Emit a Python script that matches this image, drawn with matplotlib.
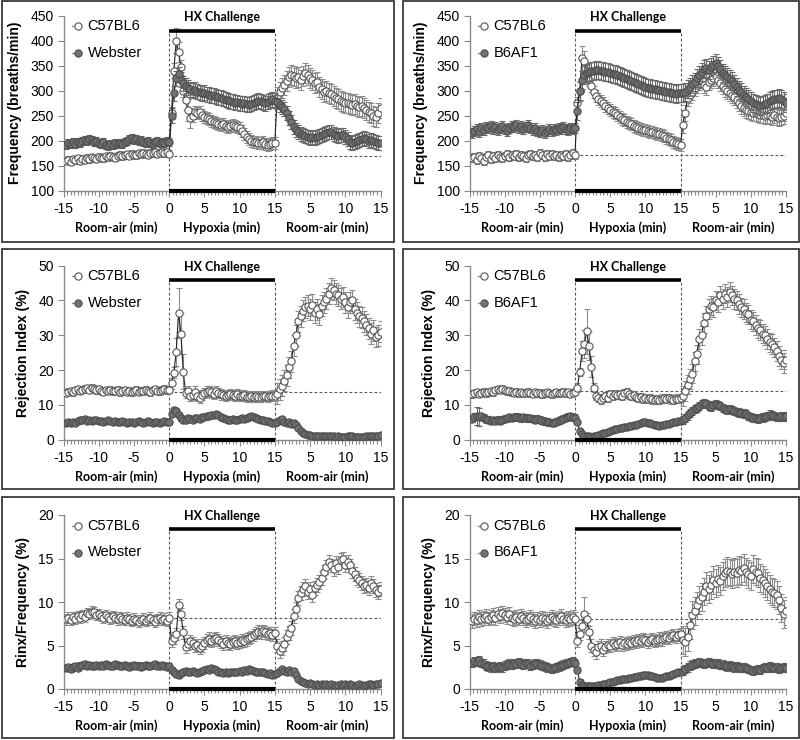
import numpy as np
import matplotlib
matplotlib.use("Agg")
import matplotlib.pyplot as plt
from matplotlib.patches import Rectangle
from matplotlib.lines import Line2D
import matplotlib.transforms as mtransforms

plt.rcParams['font.family'] = ['Liberation Sans', 'DejaVu Sans']

# ---------------- data (3 bins per minute; baseline, hypoxia, recovery) -------------
SEG_LABELS = ["Room-air (min)", "Hypoxia (min)", "Room-air (min)"]
XTICK_POS = [-15, -10, -5, 0, 5, 10, 15, 20, 25, 30]
XTICK_LABELS = ["-15", "-10", "-5", "0", "5", "10", "15", "5", "10", "15"]

P1_C57 = [160,162,158,163,161,165,160,164,162,166,163,167,165,164,168,166,165,169,167,170,168,166,170,172,169,171,173,170,174,172,171,175,173,176,174,172,176,175,177,174,176,178,175,177,174,
          255,340,400,378,347,300,282,262,245,250,258,255,258,252,248,245,243,240,238,236,234,232,233,230,228,230,232,229,228,225,220,214,208,203,200,197,198,196,195,198,194,191,193,195,196,
          288,298,305,312,320,328,332,330,326,328,322,330,335,332,326,322,315,318,308,303,297,300,296,294,290,286,283,280,278,276,275,274,272,273,270,268,270,266,262,258,255,250,248,255,265]
P1_WEB = [192,195,193,197,194,198,196,200,202,199,203,201,198,200,196,194,197,192,190,193,191,195,193,196,194,198,200,203,205,201,203,199,201,197,195,199,196,194,197,199,195,198,196,199,197,
          250,295,325,333,322,315,310,306,303,300,302,298,297,295,296,293,292,290,291,288,287,286,284,282,281,279,278,276,277,275,274,275,273,272,274,276,278,280,279,277,275,278,281,283,280,
          278,272,268,264,255,246,238,228,222,218,214,212,210,208,206,207,205,208,210,212,214,216,218,217,214,212,210,212,211,208,203,198,196,198,200,202,204,205,203,200,202,199,197,196,196]
P2_C57 = [165,168,162,170,166,160,167,171,164,169,166,172,168,165,170,173,167,171,169,174,168,172,170,166,171,174,169,172,168,175,171,167,173,170,174,169,172,167,171,169,173,168,171,175,172,
          275,300,365,360,340,322,310,298,290,284,279,275,270,266,262,258,255,252,248,244,241,238,236,233,230,228,226,224,222,221,219,218,217,215,214,213,212,209,206,204,201,198,196,193,192,
          232,255,285,292,298,305,312,318,322,312,308,318,322,326,330,322,315,310,304,300,296,292,288,282,276,270,266,262,260,258,256,255,254,252,251,250,252,250,248,251,248,245,247,250,255]
P2_B6 = [215,220,224,218,226,222,228,225,230,223,227,221,225,229,224,220,226,230,227,232,226,229,224,228,231,226,222,225,220,218,222,216,219,223,220,224,221,226,223,227,224,222,226,223,225,
         260,300,322,332,336,338,340,339,342,341,340,339,338,337,336,334,333,331,330,328,326,324,322,320,318,316,314,312,310,308,306,305,304,303,302,301,300,299,298,297,296,295,294,296,295,
         295,298,303,308,313,318,325,332,338,343,346,342,348,352,355,350,343,336,332,328,324,320,314,308,302,297,292,287,283,279,276,273,271,270,272,274,276,279,282,284,283,286,284,279,276]
P3_C57 = [13.5,13.8,14.0,13.6,14.2,14.5,14.0,14.3,14.6,14.8,14.4,15.0,14.7,14.2,14.5,14.0,13.8,14.2,14.0,14.4,13.9,14.1,14.3,13.7,14.0,14.2,13.8,14.1,13.6,14.0,14.3,13.8,14.1,13.9,14.4,14.0,13.7,14.2,14.5,14.1,13.9,14.3,14.6,14.2,14.4,
          16.2,19.3,25.3,36.5,30.5,19.5,13.5,14.0,12.5,12.8,13.8,12.5,12.0,12.8,13.5,13.8,14.0,13.6,13.2,13.9,13.5,13.0,12.8,12.5,12.9,13.2,12.8,12.6,13.0,12.7,12.5,12.8,12.4,12.2,12.5,12.3,12.6,12.4,12.2,12.5,12.6,12.3,12.5,12.7,12.6,
          13.2,14.5,15.5,17.0,18.5,20.8,22.5,27.0,30.0,34.0,35.5,37.0,38.0,38.5,37.5,38.8,36.5,37.5,36.0,38.5,39.5,40.5,42.0,43.5,43.0,42.0,41.5,40.5,41.0,39.5,38.0,39.5,40.0,37.5,36.5,35.5,35.0,34.0,33.0,32.0,30.5,31.5,29.5,30.0,31.0]
P3_WEB = [4.8,5.0,4.7,5.1,4.9,5.3,5.8,5.6,5.9,5.5,5.7,5.4,5.8,5.6,5.3,5.5,5.2,5.4,5.6,5.3,5.1,5.4,5.2,5.0,5.3,5.1,4.9,5.2,5.0,4.8,5.1,5.3,5.0,4.9,5.2,5.4,5.1,4.9,5.2,5.0,4.8,5.1,5.3,5.0,5.2,
          7.5,8.6,8.2,7.2,6.3,5.6,5.8,6.2,6.0,5.8,6.1,6.3,6.0,6.4,6.6,6.8,6.9,7.1,7.0,7.3,7.0,6.6,6.3,6.0,5.8,5.7,5.9,5.6,5.8,5.9,6.1,6.0,6.2,6.5,6.8,6.6,6.3,6.0,5.8,5.6,5.5,5.3,5.1,4.9,4.8,
          5.0,5.6,6.0,5.2,4.8,5.0,4.6,4.8,4.2,3.4,2.6,2.0,1.6,1.4,1.3,1.2,1.1,1.2,1.0,1.1,1.2,1.1,1.0,1.2,1.1,0.9,1.0,0.9,0.8,0.9,1.0,1.1,1.0,0.9,0.8,0.7,0.8,0.9,1.0,1.1,1.0,1.1,1.2,1.1,1.3]
P4_C57 = [13.0,13.3,13.6,13.2,13.5,13.8,13.4,13.7,14.0,13.6,14.2,14.5,14.3,14.6,14.2,13.9,14.1,13.7,13.5,13.8,13.4,13.6,13.3,13.5,13.8,13.4,13.2,13.6,13.3,13.5,13.1,13.4,13.6,13.3,13.0,13.4,13.7,13.3,13.5,13.8,13.4,13.6,13.2,13.5,13.8,
          15.0,19.5,25.5,27.5,31.2,27.0,21.0,15.0,12.5,12.0,11.5,12.0,12.5,12.0,13.0,12.6,13.2,12.8,13.0,12.7,13.3,13.6,13.0,12.6,12.8,12.3,12.0,12.2,11.8,12.0,11.7,11.9,11.6,11.4,11.6,11.5,11.8,12.0,11.7,11.9,11.6,11.5,11.8,11.7,12.0,
          12.5,14.0,15.8,17.5,19.0,22.5,24.5,29.0,30.0,33.5,35.5,37.5,38.5,38.0,40.0,39.5,41.5,40.5,42.0,41.0,42.5,41.5,40.5,40.0,39.0,38.0,37.5,36.5,36.0,34.5,34.0,33.0,32.0,31.5,30.5,30.0,29.0,28.0,27.5,26.5,25.5,24.0,23.0,22.0,23.0]
P4_B6 = [6.0,6.6,6.8,6.5,6.7,6.3,5.9,5.7,5.5,5.6,5.4,5.7,5.5,5.8,6.0,6.2,6.4,6.3,6.5,6.6,6.4,6.2,6.5,6.3,6.1,6.2,6.0,5.8,6.0,5.7,5.5,5.3,5.1,5.0,4.8,4.9,5.2,5.5,5.8,6.0,6.3,6.6,6.8,6.5,6.3,
         5.0,2.5,1.5,1.2,1.0,1.1,0.9,1.0,1.1,1.3,1.5,1.8,2.0,2.3,2.5,2.8,3.0,3.1,3.3,3.4,3.6,3.7,3.9,4.0,4.2,4.3,4.5,4.8,5.0,5.1,4.9,4.7,4.5,4.3,4.1,4.0,4.2,4.3,4.5,4.6,4.8,5.0,5.1,5.3,5.4,
         5.6,6.2,7.0,7.6,8.3,8.8,9.2,9.6,10.2,10.6,10.3,9.8,9.5,10.0,10.3,9.9,9.6,9.2,8.9,8.6,8.8,8.5,8.2,8.0,7.8,7.6,7.5,7.3,6.9,6.5,6.3,6.2,6.0,6.2,6.4,6.5,6.8,7.2,7.0,6.8,6.6,6.5,6.7,6.6,6.8]
P5_C57 = [8.0,8.2,7.9,8.3,8.1,8.4,8.2,8.5,8.3,8.7,8.6,8.9,8.8,8.5,8.6,8.4,8.2,8.5,8.3,8.1,8.4,8.2,8.0,8.3,8.1,7.9,8.2,8.0,7.8,8.1,7.9,7.7,7.9,8.1,7.8,8.0,8.2,7.9,7.7,8.0,8.2,7.9,8.1,7.8,8.2,
          5.5,5.9,6.3,9.6,8.6,6.5,4.8,5.2,5.5,5.3,4.9,5.1,4.7,5.0,5.3,5.6,5.8,5.5,5.7,5.9,5.6,5.4,5.2,5.5,5.3,5.2,5.4,5.5,5.3,5.4,5.6,5.5,5.7,5.9,6.0,6.2,6.4,6.6,6.5,6.7,6.5,6.3,6.4,6.2,6.4,
          5.0,4.4,4.7,5.2,6.0,6.4,7.0,8.4,9.2,10.5,11.0,11.5,11.8,11.2,11.5,10.8,11.6,12.0,12.3,12.8,13.5,14.0,14.6,14.2,13.8,14.5,14.0,14.8,15.0,14.3,14.6,14.2,13.6,13.2,12.8,12.5,12.2,11.8,12.0,11.6,12.2,11.8,11.4,11.2,11.5]
P5_WEB = [2.4,2.5,2.3,2.5,2.6,2.4,2.7,2.8,2.9,2.7,2.8,2.6,2.7,2.8,2.6,2.8,2.7,2.9,2.8,2.6,2.7,2.9,2.8,2.6,2.7,2.8,2.6,2.5,2.7,2.8,2.6,2.7,2.5,2.6,2.8,2.7,2.6,2.8,2.9,2.7,2.6,2.8,2.7,2.5,2.6,
          2.2,1.9,1.7,1.6,1.8,2.0,2.1,1.9,2.0,2.1,1.9,1.8,2.0,2.1,2.2,2.3,2.2,2.4,2.3,2.2,2.0,1.9,1.8,1.9,1.8,1.9,2.0,1.9,2.0,2.1,2.0,2.2,2.1,2.3,2.2,2.1,2.0,1.9,2.0,1.9,1.8,1.7,1.8,1.6,1.7,
          1.8,2.1,2.3,2.1,2.0,2.2,2.0,2.1,1.6,1.2,0.9,0.8,0.7,0.6,0.7,0.6,0.5,0.6,0.5,0.6,0.5,0.6,0.5,0.6,0.5,0.4,0.5,0.6,0.5,0.6,0.5,0.6,0.5,0.4,0.5,0.6,0.5,0.4,0.5,0.6,0.6,0.5,0.6,0.6,0.7]
P6_C57 = [7.8,8.1,7.9,8.3,8.0,8.2,8.4,8.1,8.3,8.5,8.2,8.6,8.4,8.7,8.5,8.3,8.6,8.2,8.0,8.3,8.1,8.4,8.2,7.9,8.1,8.3,8.0,7.8,8.1,7.9,8.2,8.0,7.8,8.1,8.3,8.0,7.9,8.2,8.4,8.1,7.9,8.2,8.0,8.3,8.1,
          5.5,6.3,7.2,8.6,8.0,6.5,5.0,4.5,4.2,4.8,5.0,4.5,4.8,5.1,5.0,5.3,5.1,5.2,5.4,5.1,5.3,5.2,5.4,5.3,5.5,5.4,5.6,5.5,5.7,5.6,5.4,5.6,5.7,5.5,5.6,5.8,5.7,5.9,6.0,5.9,6.1,6.2,6.0,6.2,6.3,
          5.6,5.4,6.0,7.3,8.5,9.0,9.6,10.2,10.6,11.2,11.8,11.5,12.0,12.5,12.2,12.7,12.4,13.0,13.3,13.6,13.4,13.2,13.5,13.3,13.7,13.6,13.9,13.5,13.2,13.0,13.8,13.5,13.3,12.8,12.5,12.2,11.8,11.5,11.2,11.0,10.8,10.2,9.3,8.6,9.0]
P6_B6 = [3.0,3.2,3.1,3.3,3.0,2.9,2.7,2.6,2.5,2.6,2.4,2.5,2.6,2.5,2.7,2.8,2.9,2.8,3.0,2.9,3.1,2.9,2.8,3.0,2.9,2.7,2.8,3.0,2.9,2.8,2.7,2.6,2.5,2.4,2.3,2.4,2.5,2.6,2.7,2.8,2.9,3.0,3.1,3.2,3.0,
         2.2,0.8,0.45,0.4,0.35,0.35,0.4,0.35,0.4,0.45,0.5,0.55,0.6,0.7,0.8,0.85,0.9,1.0,1.0,1.1,1.15,1.2,1.25,1.3,1.35,1.4,1.45,1.5,1.6,1.65,1.6,1.5,1.45,1.4,1.3,1.25,1.3,1.4,1.45,1.5,1.6,1.7,1.8,1.9,2.0,
         2.1,2.3,2.5,2.7,2.8,2.9,3.0,3.1,3.0,2.9,3.0,3.1,3.0,2.9,3.0,2.9,2.8,2.8,2.7,2.6,2.7,2.6,2.5,2.6,2.5,2.4,2.5,2.4,2.3,2.2,2.1,2.2,2.3,2.2,2.4,2.5,2.4,2.6,2.5,2.4,2.5,2.3,2.4,2.5,2.4]

# SEM per segment (baseline, hypoxia, recovery) and larger values at single bins
P1_C57_SEM = (7, 12, 20);   P1_C57_SEM_X = {46: 15, 47: 25, 48: 20, 49: 15, 51: 20, 52: 22, 53: 20}
P1_WEB_SEM = (8, 15, 14);   P1_WEB_SEM_X = {}
P2_C57_SEM = (8, 12, 16);   P2_C57_SEM_X = {46: 20, 47: 25, 48: 20}
P2_B6_SEM = (10, 18, 18);   P2_B6_SEM_X = {}
P3_C57_SEM = (1.0, 1.5, 3.0); P3_C57_SEM_X = {47: 4, 48: 7, 49: 6, 50: 5}
P3_WEB_SEM = (0.6, 0.8, 0.5); P3_WEB_SEM_X = {}
P4_C57_SEM = (1.0, 1.2, 2.8); P4_C57_SEM_X = {47: 3, 48: 4, 49: 6.5, 50: 4, 51: 3}
P4_B6_SEM = (1.0, 0.5, 1.2);  P4_B6_SEM_X = {2: 2.5, 3: 2.5}
P5_C57_SEM = (0.6, 0.7, 0.8); P5_C57_SEM_X = {48: 0.7}
P5_WEB_SEM = (0.35, 0.3, 0.2); P5_WEB_SEM_X = {}
P6_C57_SEM = (0.8, 0.7, 1.6); P6_C57_SEM_X = {48: 2.0}
P6_B6_SEM = (0.5, 0.3, 0.5);  P6_B6_SEM_X = {}

BASELINE_REF = [170, 171, 13.6, 14.0, 8.2, 8.1]
# ------------------------------------------------------------------------------------

t_rel = np.arange(1, 46) / 3.0
T = np.concatenate([-15 + t_rel, t_rel, 15 + t_rel])


def sem_array(seg, extra):
    e = np.repeat(np.array(seg, dtype=float), 45)
    for k, v in extra.items():
        e[k] = v
    return e


panels = [
    dict(c57=P1_C57, other=P1_WEB, name="Webster", sc=(P1_C57_SEM, P1_C57_SEM_X), so=(P1_WEB_SEM, P1_WEB_SEM_X),
         ylim=(100, 450), step=50, ylabel="Frequency (breaths/min)", bar=420, ref=BASELINE_REF[0]),
    dict(c57=P2_C57, other=P2_B6, name="B6AF1", sc=(P2_C57_SEM, P2_C57_SEM_X), so=(P2_B6_SEM, P2_B6_SEM_X),
         ylim=(100, 450), step=50, ylabel="Frequency (breaths/min)", bar=420, ref=BASELINE_REF[1]),
    dict(c57=P3_C57, other=P3_WEB, name="Webster", sc=(P3_C57_SEM, P3_C57_SEM_X), so=(P3_WEB_SEM, P3_WEB_SEM_X),
         ylim=(0, 50), step=10, ylabel="Rejection Index (%)", bar=46, ref=BASELINE_REF[2]),
    dict(c57=P4_C57, other=P4_B6, name="B6AF1", sc=(P4_C57_SEM, P4_C57_SEM_X), so=(P4_B6_SEM, P4_B6_SEM_X),
         ylim=(0, 50), step=10, ylabel="Rejection Index (%)", bar=46, ref=BASELINE_REF[3]),
    dict(c57=P5_C57, other=P5_WEB, name="Webster", sc=(P5_C57_SEM, P5_C57_SEM_X), so=(P5_WEB_SEM, P5_WEB_SEM_X),
         ylim=(0, 20), step=5, ylabel="Rinx/Frequency (%)", bar=18.4, ref=BASELINE_REF[4]),
    dict(c57=P6_C57, other=P6_B6, name="B6AF1", sc=(P6_C57_SEM, P6_C57_SEM_X), so=(P6_B6_SEM, P6_B6_SEM_X),
         ylim=(0, 20), step=5, ylabel="Rinx/Frequency (%)", bar=18.4, ref=BASELINE_REF[5]),
]

W, H = 800, 740
fig = plt.figure(figsize=(8, 7.4), dpi=100)

col_x = [(63.5, 380.5), (469.5, 786.0)]
row_y = [(15.7, 190.7), (265.7, 439.7), (515.0, 689.0)]
frames_x = [(1.5, 394.0), (402.5, 798.5)]
frames_y = [(1.0, 242.0), (249.0, 488.5), (497.0, 738.0)]

for r in range(3):
    for c in range(2):
        x0, x1 = frames_x[c]
        y0, y1 = frames_y[r]
        fig.add_artist(Rectangle((x0 / W, 1 - y1 / H), (x1 - x0) / W, (y1 - y0) / H,
                                 transform=fig.transFigure, fill=False, ec='#3a3a3a', lw=1.3))

AX_GRAY = '#8a8a8a'
for i, p in enumerate(panels):
    r, c = divmod(i, 2)
    l, rr = col_x[c]
    top, bot = row_y[r]
    ax = fig.add_axes([l / W, 1 - bot / H, (rr - l) / W, (bot - top) / H])
    ax.set_xlim(-15, 30)
    ax.set_ylim(*p['ylim'])
    for s in ['top', 'right']:
        ax.spines[s].set_visible(False)
    for s in ['left', 'bottom']:
        ax.spines[s].set_color(AX_GRAY)
        ax.spines[s].set_linewidth(1.0)
    ax.set_xticks(XTICK_POS)
    ax.set_xticklabels(XTICK_LABELS)
    ax.set_xticks(np.arange(-15, 30.01, 0.5), minor=True)
    ax.set_yticks(np.arange(p['ylim'][0], p['ylim'][1] + 0.01, p['step']))
    ax.tick_params(axis='both', which='both', direction='out', color=AX_GRAY, width=0.8,
                   labelsize=10, labelcolor='black')
    ax.tick_params(axis='x', which='major', length=4, pad=4)
    ax.tick_params(axis='x', which='minor', length=3)
    ax.tick_params(axis='y', which='major', length=4, pad=3)
    ax.set_ylabel(p['ylabel'], fontsize=10, fontweight='bold', labelpad=6)

    ylo, yhi = p['ylim']
    # reference lines
    ax.plot([0, 30], [p['ref'], p['ref']], ls=(0, (2.5, 2)), color='#555555', lw=0.8, zorder=1)
    for xv in (0, 15):
        ax.plot([xv, xv], [ylo, p['bar']], ls=(0, (2.5, 2)), color='#555555', lw=0.8, zorder=1)
    ax.plot([0, 15], [p['bar'], p['bar']], color='black', lw=2.6, solid_capstyle='butt', zorder=5)
    ax.plot([0, 15], [ylo, ylo], color='black', lw=3.0, solid_capstyle='butt', zorder=5, clip_on=False)

    # series
    yc = np.array(p['c57'], dtype=float)
    yo = np.array(p['other'], dtype=float)
    ec = sem_array(*p['sc'])
    eo = sem_array(*p['so'])
    ax.errorbar(T, yc, yerr=ec, fmt='none', ecolor='#8c8c8c', elinewidth=0.8, capsize=2, capthick=0.8, zorder=2)
    ax.plot(T, yc, '-', color='#222222', lw=0.8, marker='o', ms=5.2, mfc='white', mec='#555555', mew=0.8, zorder=3)
    ax.errorbar(T, yo, yerr=eo, fmt='none', ecolor='#6a6a6a', elinewidth=0.8, capsize=2, capthick=0.8, zorder=3.5)
    ax.plot(T, yo, '-', color='#222222', lw=0.8, marker='o', ms=5.2, mfc='#737373', mec='#4d4d4d', mew=0.8, zorder=4)

    # legend (drawn manually)
    wpx = rr - l
    hpx = bot - top
    mx = 14.5 / wpx
    tx = 24.0 / wpx
    for yy, (lab, mfc, mec) in zip([1 - 10.5 / hpx, 1 - 37.5 / hpx],
                                   [("C57BL6", 'white', '#555555'), (p['name'], '#737373', '#4d4d4d')]):
        ax.add_line(Line2D([mx - 6 / wpx, mx + 3 / wpx], [yy, yy], transform=ax.transAxes,
                           color='#8c8c8c', lw=1.0, clip_on=False))
        ax.add_line(Line2D([mx], [yy], transform=ax.transAxes, marker='o', ms=5.2, mfc=mfc, mec=mec,
                           mew=0.8, ls='none', clip_on=False))
        ax.text(tx, yy, lab, transform=ax.transAxes, fontsize=10.5, va='center', ha='left')

    # HX Challenge label & segment labels
    trans = mtransforms.blended_transform_factory(ax.transData, ax.transAxes)
    ax.text(7.5, 1 - 1.0 / hpx, "HX Challenge", transform=trans, ha='center', va='center',
            fontsize=9, fontweight='bold', family=['Lato', 'DejaVu Sans'])
    for xc, lab in zip([-7.5, 7.5, 22.5], SEG_LABELS):
        ax.text(xc, -36.5 / hpx, lab, transform=trans, ha='center', va='center',
                fontsize=9, fontweight='bold', family=['Lato', 'DejaVu Sans'])

fig.savefig("out.png", dpi=100)
